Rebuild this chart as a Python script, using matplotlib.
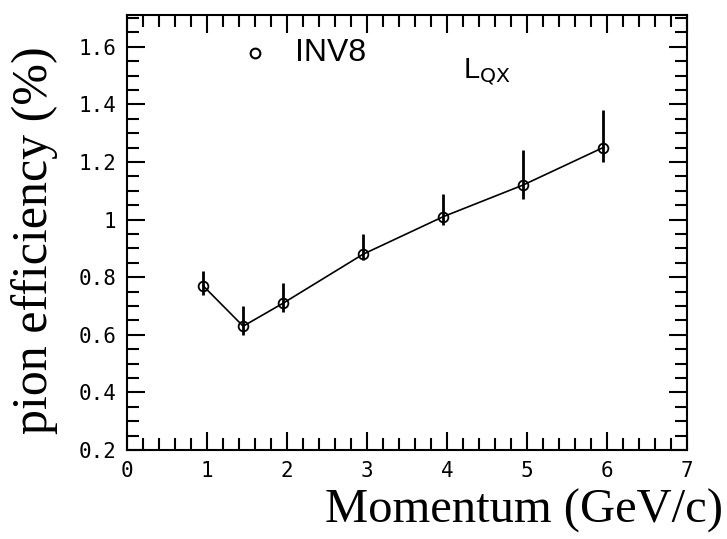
import matplotlib
matplotlib.use("Agg")
import matplotlib.pyplot as plt
from matplotlib.ticker import MultipleLocator

momentum = [0.95, 1.45, 1.95, 2.95, 3.95, 4.95, 5.95]
efficiency = [0.77, 0.63, 0.71, 0.88, 1.01, 1.12, 1.25]
err_low = [0.03, 0.03, 0.03, 0.02, 0.03, 0.05, 0.05]
err_high = [0.05, 0.07, 0.07, 0.07, 0.08, 0.12, 0.13]

y_ticks = [0.2, 0.4, 0.6, 0.8, 1.0, 1.2, 1.4, 1.6]
y_tick_labels = ["0.2", "0.4", "0.6", "0.8", "1", "1.2", "1.4", "1.6"]


def main():
    fig = plt.figure(figsize=(7.27, 5.39), dpi=100)
    ax = fig.add_axes([0.175, 0.165, 0.77, 0.807])

    ax.errorbar(momentum, efficiency, yerr=[err_low, err_high], color="black",
                lw=1.2, elinewidth=2, capsize=0, marker="o", ms=7,
                mfc="none", mec="black", mew=1.3)

    # legend drawn by hand like the original
    ax.plot([1.6], [1.58], marker="o", ms=7, mfc="none", mec="black", mew=1.5)
    ax.text(2.1, 1.58, "INV8", fontsize=23, family="Liberation Sans",
            va="center", ha="left")
    ax.text(4.2, 1.51, r"L$_{\mathrm{QX}}$", fontsize=21, family="Liberation Sans",
            va="center", ha="left")

    ax.set_xlim(0, 7)
    ax.set_ylim(0.2, 1.71)
    ax.xaxis.set_major_locator(MultipleLocator(1))
    ax.xaxis.set_minor_locator(MultipleLocator(0.2))
    ax.yaxis.set_minor_locator(MultipleLocator(0.05))
    ax.set_yticks(y_ticks)
    ax.set_yticklabels(y_tick_labels)
    ax.tick_params(which="both", direction="in", top=True, right=True,
                   width=1.5, labelsize=15, pad=8)
    ax.tick_params(which="major", length=13)
    ax.tick_params(which="minor", length=8.5)
    for lab in ax.get_xticklabels() + ax.get_yticklabels():
        lab.set_family("DejaVu Sans Mono")
    for s in ax.spines.values():
        s.set_linewidth(1.5)

    fig.text(0.995, 0.012, "Momentum (GeV/c)", fontsize=35,
             family="Liberation Serif", ha="right", va="bottom")
    fig.text(0.048, 0.555, "pion efficiency (%)", fontsize=36,
             family="Liberation Serif", rotation=90, ha="center", va="center")

    fig.savefig("out.png", dpi=100)


if __name__ == "__main__":
    main()
